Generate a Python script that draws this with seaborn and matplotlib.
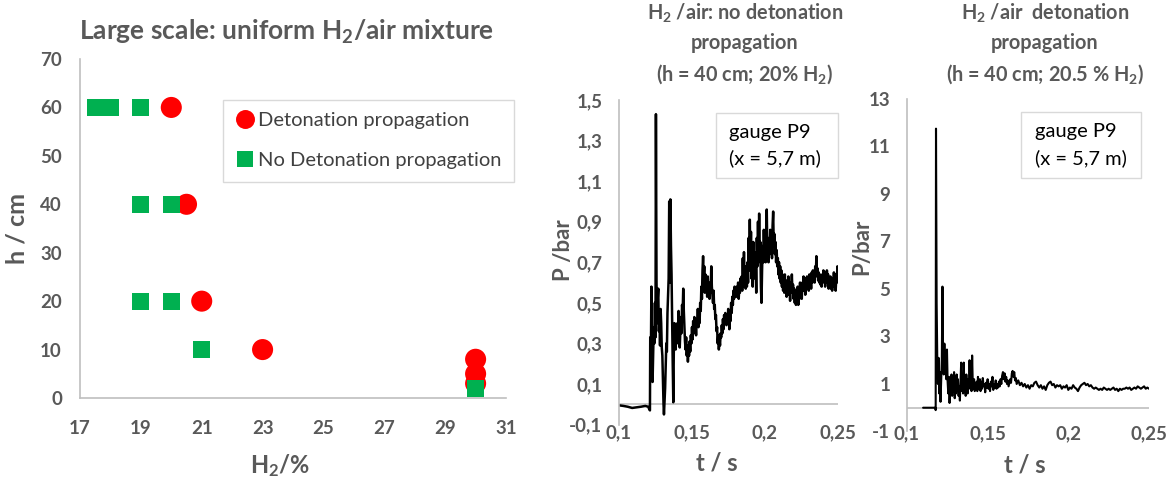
import numpy as np
import pandas as pd
import matplotlib
matplotlib.use("Agg")
import matplotlib.pyplot as plt
import seaborn as sns
from matplotlib.patches import Rectangle

# ---------------- data ----------------
det_h2 = [20.0, 20.5, 21.0, 23.0, 30.0, 30.0, 30.0]
det_h = [60, 40, 20, 10, 8, 5, 3]
nodet_h2 = [17.5, 17.75, 18.0, 19.0, 19.0, 20.0, 19.0, 20.0, 21.0, 30.0]
nodet_h = [60, 60, 60, 60, 40, 40, 20, 20, 10, 2]
labels_cls = ["Detonation propagation", "No Detonation propagation"]

x_ticks_left = [17, 19, 21, 23, 25, 27, 29, 31]
y_ticks_left = [0, 10, 20, 30, 40, 50, 60, 70]

# no detonation trace (h = 40 cm, 20% H2)
t_nd = [0.1000, 0.1030, 0.1060, 0.1090, 0.1120, 0.1150, 0.1180, 0.1200, 0.1208,
        0.1212, 0.1214, 0.1218, 0.1222, 0.1226, 0.1230, 0.1234, 0.1238, 0.1242, 0.1246, 0.1250,
        0.1253, 0.1257, 0.1261, 0.1265, 0.1269, 0.1273, 0.1277, 0.1281, 0.1285, 0.1289,
        0.1293, 0.1297, 0.1301, 0.1305, 0.1308, 0.1312, 0.1316, 0.1320, 0.1324, 0.1328,
        0.1332, 0.1336, 0.1340, 0.1344, 0.1348, 0.1352, 0.1356, 0.1360, 0.1364, 0.1368,
        0.1372, 0.1376, 0.1380, 0.1384, 0.1388, 0.1392, 0.1396, 0.1400, 0.1404, 0.1408,
        0.1412, 0.1416, 0.1420, 0.1424, 0.1428, 0.1432, 0.1436, 0.1440, 0.1444, 0.1448,
        0.1452, 0.1456, 0.1460, 0.1464, 0.1468, 0.1472, 0.1476, 0.1480, 0.1484, 0.1488,
        0.1492, 0.1496, 0.1500, 0.1504, 0.1508, 0.1512, 0.1516, 0.1520, 0.1524, 0.1528,
        0.1532, 0.1536, 0.1540, 0.1544, 0.1548, 0.1552, 0.1556, 0.1560, 0.1564, 0.1568,
        0.1572, 0.1576, 0.1580, 0.1584, 0.1588, 0.1592, 0.1596, 0.1600, 0.1604, 0.1608,
        0.1612, 0.1616, 0.1620, 0.1624, 0.1628, 0.1632, 0.1636, 0.1640, 0.1644, 0.1648,
        0.1652, 0.1656, 0.1660, 0.1664, 0.1668, 0.1672, 0.1676, 0.1680, 0.1684, 0.1688,
        0.1692, 0.1696, 0.1700, 0.1704, 0.1708, 0.1712, 0.1716, 0.1720, 0.1724, 0.1728,
        0.1732, 0.1736, 0.1740, 0.1744, 0.1748, 0.1752, 0.1756, 0.1760, 0.1764, 0.1768,
        0.1772, 0.1776, 0.1780, 0.1784, 0.1788, 0.1792, 0.1796, 0.1800, 0.1804, 0.1808,
        0.1812, 0.1816, 0.1820, 0.1824, 0.1828, 0.1832, 0.1836, 0.1840, 0.1844, 0.1848,
        0.1852, 0.1856, 0.1860, 0.1864, 0.1868, 0.1872, 0.1876, 0.1880, 0.1884, 0.1888,
        0.1892, 0.1896, 0.1900, 0.1904, 0.1908, 0.1912, 0.1916, 0.1920, 0.1924, 0.1928,
        0.1932, 0.1936, 0.1940, 0.1944, 0.1948, 0.1952, 0.1956, 0.1960, 0.1964, 0.1968,
        0.1972, 0.1976, 0.1980, 0.1984, 0.1988, 0.1992, 0.1996, 0.2000, 0.2004, 0.2008,
        0.2012, 0.2016, 0.2020, 0.2024, 0.2028, 0.2032, 0.2036, 0.2040, 0.2044, 0.2048,
        0.2052, 0.2056, 0.2060, 0.2064, 0.2068, 0.2072, 0.2076, 0.2080, 0.2084, 0.2088,
        0.2092, 0.2096, 0.2100, 0.2104, 0.2108, 0.2112, 0.2116, 0.2120, 0.2124, 0.2128,
        0.2132, 0.2136, 0.2140, 0.2144, 0.2148, 0.2152, 0.2156, 0.2160, 0.2164, 0.2168,
        0.2172, 0.2176, 0.2180, 0.2184, 0.2188, 0.2192, 0.2196, 0.2200, 0.2204, 0.2208,
        0.2212, 0.2216, 0.2220, 0.2224, 0.2228, 0.2232, 0.2236, 0.2240, 0.2244, 0.2248,
        0.2252, 0.2256, 0.2260, 0.2264, 0.2268, 0.2272, 0.2276, 0.2280, 0.2284, 0.2288,
        0.2292, 0.2296, 0.2300, 0.2304, 0.2308, 0.2312, 0.2316, 0.2320, 0.2324, 0.2328,
        0.2332, 0.2336, 0.2340, 0.2344, 0.2348, 0.2352, 0.2356, 0.2360, 0.2364, 0.2368,
        0.2372, 0.2376, 0.2380, 0.2384, 0.2388, 0.2392, 0.2396, 0.2400, 0.2404, 0.2408,
        0.2412, 0.2416, 0.2420, 0.2424, 0.2428, 0.2432, 0.2436, 0.2440, 0.2444, 0.2448,
        0.2452, 0.2456, 0.2460, 0.2464, 0.2468, 0.2472, 0.2476, 0.2480, 0.2484, 0.2488,
        0.2492, 0.2496, 0.2500]
p_nd = [-0.005, -0.008, -0.012, -0.018, -0.015, -0.012, -0.008, -0.012, -0.025,
        -0.030, 0.33, 0.20, 0.58, 0.30, 0.11, 0.25, 0.38, 0.30, 0.50, 0.33,
        1.43, 0.60, 0.40, 0.52, 0.57, 0.36, 0.45, 0.29, 0.47, 0.40,
        0.28, 0.24, 0.12, 0.00, -0.05, 0.02, 0.08, 0.20, 0.30, 0.26,
        0.45, 0.54, 0.62, 1.00, 0.60, 1.01, 0.78, 0.64, 0.40, 0.20,
        0.01, 0.30, 0.40, 0.33, 0.27, 0.37, 0.30, 0.40, 0.33, 0.46,
        0.38, 0.28, 0.36, 0.43, 0.35, 0.49, 0.45, 0.57, 0.46, 0.38,
        0.31, 0.27, 0.33, 0.24, 0.29, 0.21, 0.27, 0.24, 0.31, 0.26,
        0.34, 0.30, 0.38, 0.32, 0.41, 0.35, 0.43, 0.37, 0.40, 0.34,
        0.42, 0.39, 0.47, 0.38, 0.44, 0.40, 0.50, 0.46, 0.58, 0.52,
        0.66, 0.73, 0.62, 0.68, 0.55, 0.64, 0.57, 0.61, 0.53, 0.63,
        0.56, 0.58, 0.52, 0.60, 0.55, 0.68, 0.58, 0.54, 0.50, 0.56,
        0.47, 0.49, 0.42, 0.44, 0.36, 0.38, 0.30, 0.34, 0.27, 0.32,
        0.29, 0.35, 0.33, 0.39, 0.35, 0.42, 0.37, 0.44, 0.40, 0.45,
        0.41, 0.39, 0.44, 0.40, 0.47, 0.42, 0.37, 0.44, 0.41, 0.50,
        0.45, 0.53, 0.49, 0.56, 0.52, 0.58, 0.54, 0.57, 0.53, 0.58,
        0.55, 0.60, 0.52, 0.58, 0.55, 0.62, 0.57, 0.63, 0.56, 0.72,
        0.58, 0.75, 0.60, 0.68, 0.57, 0.65, 0.58, 0.70, 0.60, 0.82,
        0.66, 0.91, 0.68, 0.85, 0.62, 0.72, 0.58, 0.80, 0.64, 0.75,
        0.62, 0.70, 0.55, 0.82, 0.68, 0.90, 0.70, 0.94, 0.72, 0.80,
        0.58, 0.50, 0.66, 0.78, 0.70, 0.86, 0.74, 0.82, 0.70, 0.80,
        0.96, 0.76, 0.82, 0.70, 0.78, 0.74, 0.86, 0.76, 0.80, 0.72,
        0.88, 0.95, 0.78, 0.84, 0.74, 0.80, 0.70, 0.76, 0.68, 0.72,
        0.64, 0.70, 0.62, 0.68, 0.60, 0.66, 0.58, 0.64, 0.56, 0.62,
        0.55, 0.64, 0.57, 0.61, 0.53, 0.60, 0.55, 0.63, 0.54, 0.58,
        0.51, 0.60, 0.56, 0.64, 0.55, 0.59, 0.52, 0.57, 0.50, 0.55,
        0.49, 0.56, 0.51, 0.58, 0.49, 0.55, 0.52, 0.60, 0.54, 0.58,
        0.52, 0.60, 0.56, 0.63, 0.57, 0.61, 0.54, 0.62, 0.57, 0.63,
        0.58, 0.61, 0.56, 0.64, 0.59, 0.62, 0.57, 0.65, 0.60, 0.66,
        0.61, 0.64, 0.60, 0.68, 0.63, 0.73, 0.64, 0.67, 0.61, 0.65,
        0.60, 0.64, 0.59, 0.63, 0.58, 0.64, 0.60, 0.66, 0.61, 0.65,
        0.58, 0.63, 0.60, 0.66, 0.62, 0.64, 0.57, 0.62, 0.58, 0.63,
        0.57, 0.62, 0.56, 0.61, 0.59, 0.65, 0.58, 0.64, 0.56, 0.62,
        0.60, 0.68, 0.61]

# detonation trace (h = 40 cm, 20.5% H2)
t_d = [0.1100, 0.1170, 0.1176, 0.1178, 0.1180, 0.1184, 0.1188, 0.1192, 0.1196, 0.1200,
       0.1204, 0.1208, 0.1212, 0.1216, 0.1220, 0.1224, 0.1228, 0.1232, 0.1236, 0.1240,
       0.1244, 0.1248, 0.1252, 0.1256, 0.1260, 0.1264, 0.1268, 0.1272, 0.1276, 0.1280,
       0.1284, 0.1288, 0.1292, 0.1296, 0.1300, 0.1304, 0.1308, 0.1312, 0.1316, 0.1320,
       0.1324, 0.1328, 0.1332, 0.1336, 0.1340, 0.1344, 0.1348, 0.1352, 0.1356, 0.1360,
       0.1364, 0.1368, 0.1372, 0.1376, 0.1380, 0.1384, 0.1388, 0.1392, 0.1396, 0.1400,
       0.1404, 0.1408, 0.1412, 0.1416, 0.1420, 0.1424, 0.1428, 0.1432, 0.1436, 0.1440,
       0.1444, 0.1448, 0.1452, 0.1456, 0.1460, 0.1465, 0.1470, 0.1475, 0.1480, 0.1485,
       0.1490, 0.1495, 0.1500, 0.1505, 0.1510, 0.1515, 0.1520, 0.1525, 0.1530, 0.1535,
       0.1540, 0.1545, 0.1550, 0.1555, 0.1560, 0.1565, 0.1570, 0.1575, 0.1580, 0.1585,
       0.1590, 0.1595, 0.1600, 0.1605, 0.1610, 0.1615, 0.1620, 0.1625, 0.1630, 0.1640,
       0.1645, 0.1650, 0.1655, 0.1660, 0.1665, 0.1670, 0.1675, 0.1680, 0.1690, 0.1700,
       0.1710, 0.1720, 0.1730, 0.1740, 0.1750, 0.1760, 0.1770, 0.1780, 0.1790, 0.1800,
       0.1810, 0.1820, 0.1830, 0.1840, 0.1850, 0.1860, 0.1870, 0.1880, 0.1890, 0.1900,
       0.1910, 0.1920, 0.1930, 0.1940, 0.1950, 0.1960, 0.1970, 0.1980, 0.1990, 0.2000,
       0.2010, 0.2020, 0.2030, 0.2040, 0.2050, 0.2060, 0.2070, 0.2080, 0.2090, 0.2100,
       0.2110, 0.2120, 0.2130, 0.2140, 0.2150, 0.2160, 0.2170, 0.2180, 0.2190, 0.2200,
       0.2210, 0.2220, 0.2230, 0.2240, 0.2250, 0.2260, 0.2270, 0.2280, 0.2290, 0.2300,
       0.2310, 0.2320, 0.2330, 0.2340, 0.2350, 0.2360, 0.2370, 0.2380, 0.2390, 0.2400,
       0.2410, 0.2420, 0.2430, 0.2440, 0.2450, 0.2460, 0.2470, 0.2480, 0.2490, 0.2500]
p_d = [0.0, 0.0, 0.0, -0.1, 11.75, 4.4, 2.0, 1.0, 2.1, 0.6,
       1.5, 0.25, 1.2, 2.0, 5.1, 2.2, 1.4, 2.7, 1.5, 1.9,
       1.2, 2.45, 1.1, 0.6, 1.3, 0.2, 0.9, 0.6, 1.4, 0.5,
       1.1, 0.7, 1.5, 0.4, 1.0, 0.6, 1.4, 0.7, 1.2, 0.5,
       0.9, 0.3, 1.1, 1.9, 0.7, 1.3, 0.6, 1.9, 0.8, 1.0,
       0.5, 1.4, 0.9, 0.6, 1.2, 0.8, 2.0, 0.9, 1.5, 0.7,
       2.2, 1.0, 0.8, 1.2, 0.7, 1.0, 0.8, 1.1, 0.7, 1.3,
       0.9, 0.8, 1.2, 0.7, 1.1, 0.8, 1.25, 0.9, 1.0, 0.65,
       1.05, 0.85, 1.2, 0.8, 1.0, 0.7, 1.1, 0.9, 1.3, 0.75,
       1.0, 0.85, 1.15, 0.8, 1.0, 0.85, 1.1, 0.9, 1.2, 1.0,
       1.35, 1.5, 1.2, 1.45, 1.1, 1.3, 1.0, 1.15, 0.9, 1.2,
       1.05, 1.45, 1.55, 1.3, 1.5, 1.15, 1.25, 1.0, 1.15, 0.95,
       1.05, 0.9, 1.0, 0.85, 0.95, 0.8, 0.95, 0.9, 1.05, 1.1,
       0.95, 0.85, 0.95, 0.8, 0.9, 0.75, 0.95, 1.05, 1.1, 0.95,
       1.0, 0.85, 0.95, 0.9, 0.95, 0.8, 0.9, 0.85, 0.95, 0.75,
       0.85, 0.8, 0.95, 0.85, 0.8, 0.7, 0.85, 0.95, 1.0, 1.05,
       0.95, 1.0, 0.9, 0.95, 0.85, 0.8, 0.85, 0.8, 0.75, 0.8,
       0.75, 0.85, 0.8, 0.75, 0.8, 0.75, 0.8, 0.85, 0.75, 0.8,
       0.7, 0.8, 0.75, 0.8, 0.8, 0.85, 0.8, 0.85, 0.75, 0.8,
       0.85, 0.8, 0.9, 0.85, 0.8, 0.85, 0.9, 0.8, 0.85, 0.8]

t_ticks = [0.1, 0.15, 0.2, 0.25]
t_ticklabels = ["0,1", "0,15", "0,2", "0,25"]
p_nd_ticks = [-0.1, 0.1, 0.3, 0.5, 0.7, 0.9, 1.1, 1.3, 1.5]
p_nd_ticklabels = ["-0,1", "0,1", "0,3", "0,5", "0,7", "0,9", "1,1", "1,3", "1,5"]
p_d_ticks = [-1, 1, 3, 5, 7, 9, 11, 13]
p_d_ticklabels = ["-1", "1", "3", "5", "7", "9", "11", "13"]

# ---------------- style ----------------
sns.set_style("white")
plt.rcParams['font.family'] = ['Lato', 'DejaVu Sans']
plt.rcParams['font.weight'] = 'bold'
plt.rcParams['mathtext.default'] = 'regular'
GRAY = "#595959"
AX = "#BFBFBF"

fig = plt.figure(figsize=(11.73, 4.79), dpi=100)
ax1 = fig.add_axes([0.0682, 0.1691, 0.3632, 0.7077])
ax2 = fig.add_axes([0.5277, 0.1136, 0.1867, 0.6777])
ax3 = fig.add_axes([0.7732, 0.0992, 0.2063, 0.6942])

# ---------------- left scatter ----------------
df = pd.DataFrame({
    "h2": det_h2 + nodet_h2,
    "h": det_h + nodet_h,
    "cls": [labels_cls[0]] * len(det_h2) + [labels_cls[1]] * len(nodet_h2),
})
sns.scatterplot(data=df[df.cls == labels_cls[0]], x="h2", y="h", hue="cls", style="cls",
                palette={labels_cls[0]: "#FF0000"}, markers={labels_cls[0]: "o"},
                s=230, linewidth=0, ax=ax1, zorder=3)
sns.scatterplot(data=df[df.cls == labels_cls[1]], x="h2", y="h", hue="cls", style="cls",
                palette={labels_cls[1]: "#00B050"}, markers={labels_cls[1]: "s"},
                s=150, linewidth=0, ax=ax1, zorder=4)
ax1.set_xlim(17, 31)
ax1.set_ylim(0, 70)
ax1.set_xticks(x_ticks_left)
ax1.set_yticks(y_ticks_left)
for s in ["top", "right"]:
    ax1.spines[s].set_visible(False)
for s in ["left", "bottom"]:
    ax1.spines[s].set_color(AX)
    ax1.spines[s].set_linewidth(1.2)
ax1.tick_params(axis="both", direction="in", length=6, color=AX, width=1.2,
                labelsize=13.5, labelcolor=GRAY)
ax1.tick_params(axis="y", pad=13)
ax1.tick_params(axis="x", pad=16)
ax1.set_xlabel("H$_2$/%", fontsize=17, fontweight="bold", color=GRAY, va="center")
ax1.set_ylabel("h / cm", fontsize=18, fontweight="bold", color=GRAY)
ax1.xaxis.set_label_coords(0.469, -0.198)
ax1.yaxis.set_label_coords(-0.122, 0.50)
fig.text(287 / 1173, 1 - 32 / 479, "Large scale: uniform H$_2$/air mixture",
         fontsize=19, fontweight="bold", color=GRAY, ha="center", va="center")
h, l = ax1.get_legend_handles_labels()
leg = ax1.legend(h, l, loc="upper left", bbox_to_anchor=(0.336, 0.879),
                 frameon=True, fancybox=False, edgecolor="#D0D0D0",
                 prop={"size": 14.5, "weight": "normal"},
                 labelcolor="#404040", handletextpad=0.15, borderpad=0.6,
                 labelspacing=1.15, markerscale=0.9, handlelength=1.0,
                 borderaxespad=0)
leg.get_frame().set_linewidth(1.0)

# ---------------- pressure traces ----------------
def style_trace(ax, yticks, yticklabels, ylim, ylabel, ylab_xy, xlab_xy, xpad):
    ax.set_xlim(0.1, 0.25)
    ax.set_ylim(*ylim)
    ax.set_xticks(t_ticks)
    ax.set_xticklabels(t_ticklabels)
    ax.set_yticks(yticks)
    ax.set_yticklabels(yticklabels)
    for s in ["top", "right", "bottom"]:
        ax.spines[s].set_visible(False)
    ax.spines["left"].set_color(AX)
    ax.spines["left"].set_linewidth(1.2)
    ax.axhline(0, color=AX, lw=1.2, zorder=1)
    ax.tick_params(axis="y", direction="in", length=6, color=AX, width=1.2,
                   labelsize=13.5, labelcolor=GRAY, pad=12)
    ax.tick_params(axis="x", length=0, labelsize=13.5, labelcolor=GRAY, pad=xpad)
    ax.set_xlabel("t / s", fontsize=17, fontweight="bold", color=GRAY, va="center")
    ax.set_ylabel(ylabel, fontsize=16, fontweight="bold", color=GRAY)
    ax.yaxis.set_label_coords(*ylab_xy)
    ax.xaxis.set_label_coords(*xlab_xy)


sns.lineplot(x=t_nd, y=p_nd, ax=ax2, color="black", lw=1.8, estimator=None, sort=False)
style_trace(ax2, p_nd_ticks, p_nd_ticklabels, (-0.1, 1.5), "P /bar",
            (-0.205, 0.538), (0.447, -0.118), 0)
sns.lineplot(x=t_d, y=p_d, ax=ax3, color="black", lw=1.5, estimator=None, sort=False)
style_trace(ax3, p_d_ticks, p_d_ticklabels, (-1, 13), "P/bar",
            (-0.145, 0.555), (0.488, -0.10), -4.5)

# gauge boxes
for ax, x0, x1, y0, y1 in [(ax2, 0.443, 1.0, 0.760, 0.960), (ax3, 0.471, 0.967, 0.762, 0.961)]:
    ax.add_patch(Rectangle((x0, y0), x1 - x0, y1 - y0, transform=ax.transAxes,
                           facecolor="white", edgecolor="#D9D9D9", lw=1.0, zorder=5,
                           clip_on=False))
    ax.text(x0 + 0.06, y0 + (y1 - y0) * 0.70, "gauge P9", transform=ax.transAxes,
            fontsize=14.5, fontweight="normal", color="black", va="center", ha="left", zorder=6)
    ax.text(x0 + 0.06, y0 + (y1 - y0) * 0.30, "(x = 5,7 m)", transform=ax.transAxes,
            fontsize=14.5, fontweight="normal", color="black", va="center", ha="left", zorder=6)

# panel titles
fig.text(745 / 1173, 1 - 44 / 479,
         "H$_2$ /air: no detonation\npropagation\n(h = 40 cm; 20% H$_2$)",
         fontsize=14.3, fontweight="bold", color=GRAY, ha="center", va="center",
         linespacing=1.5)
fig.text(1045 / 1173, 1 - 44 / 479,
         "H$_2$ /air  detonation\npropagation\n(h = 40 cm; 20.5 % H$_2$)",
         fontsize=14.3, fontweight="bold", color=GRAY, ha="center", va="center",
         linespacing=1.5)

fig.savefig("out.png", dpi=100)
